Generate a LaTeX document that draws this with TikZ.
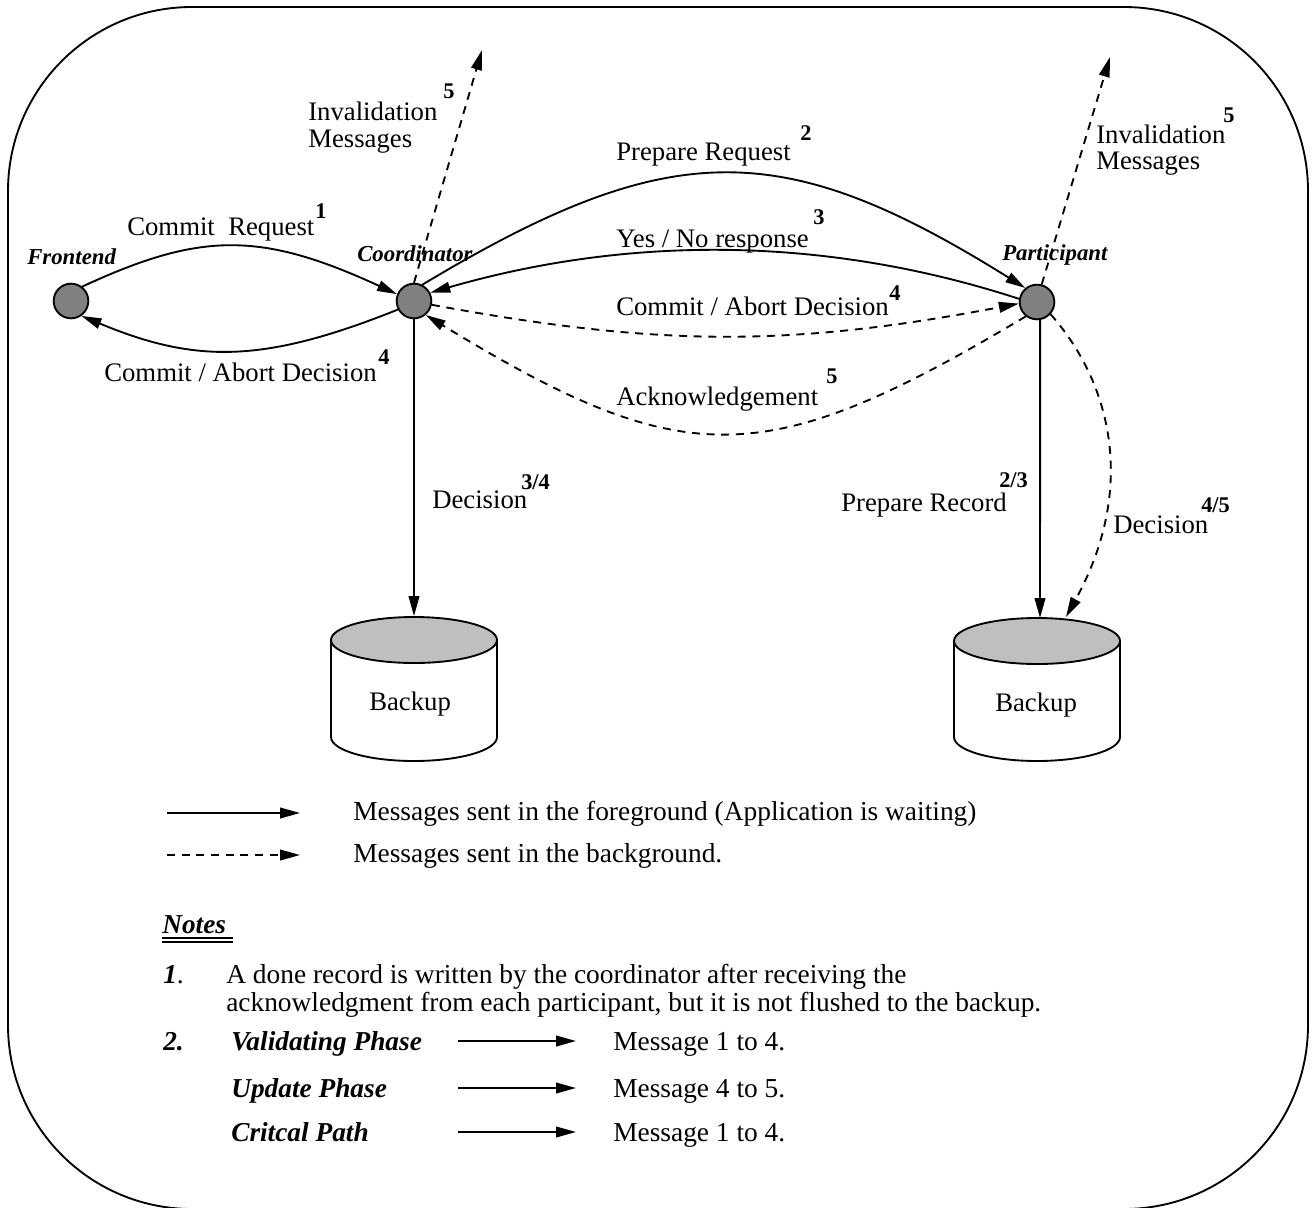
\documentclass[tikz,border=0pt]{standalone}
\usepackage{fontspec}
\setmainfont{Liberation Serif}
\usetikzlibrary{arrows.meta,shapes.geometric}
\tikzset{
  solidarrow/.style={line width=1.4pt,-{Triangle[length=15pt,width=8pt]}},
  plain/.style={line width=1.4pt},
  dasharrow/.style={line width=1.4pt,dash pattern=on 6pt off 5pt,-{Triangle[length=15pt,width=8pt]}},
  site/.style={circle,draw,line width=1.4pt,fill=black!50,minimum size=26pt,inner sep=0pt},
  disk/.style={ellipse,draw,line width=1.4pt,fill=black!25,minimum width=124.5pt,minimum height=34.5pt,inner sep=0pt},
  txt/.style={anchor=base west,inner sep=0pt,font=\fontsize{20.05}{22}\selectfont},
  txtn/.style={anchor=base west,inner sep=0pt,font=\fontsize{20.55}{22}\selectfont},
  num/.style={anchor=base west,inner sep=0pt,font=\fontsize{16.8}{18}\selectfont\bfseries},
  role/.style={anchor=base west,inner sep=0pt,font=\fontsize{17.1}{18}\selectfont\bfseries\itshape},
  head/.style={anchor=base west,inner sep=0pt,font=\fontsize{20.5}{22}\selectfont\bfseries\itshape},
}
\begin{document}
\begin{tikzpicture}[x=0.75pt,y=-0.75pt]
\useasboundingbox (0,0) rectangle (1314,1207);
\clip (0,0) rectangle (1314,1207);
\draw[plain,rounded corners=138pt] (8,7) rectangle (1308,1209);
% sites
\node[site] (F) at (71,301) {};
\node[site] (C) at (414,301) {};
\node[site] (P) at (1037,302) {};
% backups
\draw[plain,fill=white] (331,640) -- (331,737) arc[start angle=180,end angle=0,x radius=83,y radius=24] -- (497,640);
\draw[plain,fill=white] (954,641) -- (954,737) arc[start angle=180,end angle=0,x radius=83,y radius=24] -- (1120,641);
\node[disk] (DC) at (414,640) {};
\node[disk] (DP) at (1037,641) {};
\coordinate (DPa) at (1040,618);
\coordinate (DPb) at (1066,617);
% connectors
\draw[solidarrow] (F.52) .. controls (200,232) and (260,231) .. (C.158);
\draw[solidarrow] (C.208) .. controls (262,364) and (195,363) .. (F.-55);
\draw[solidarrow] (C.63) .. controls (670,136) and (782,136) .. (P.130);
\draw[solidarrow] (P.170) .. controls (823,235) and (627,236) .. (C.27);
\draw[dasharrow] (C.-12) .. controls (660,347) and (790,347) .. (P.-175);
\draw[dasharrow] (P.-128) .. controls (765,472) and (685,473) .. (C.-50);
\draw[solidarrow] (C.south) -- (DC.north);
\draw[solidarrow] (P.-80) -- (DPa);
\draw[dasharrow] (P.-42) .. controls (1113,385) and (1136,490) .. (DPb);
\coordinate (IC) at (482,50);
\coordinate (IP) at (1110,57);
\draw[dasharrow] (C.north) -- (IC);
\draw[dasharrow] (P.75) -- (IP);
% labels
\node[role] (lF) at (27,264) {Frontend};
\node[role] (lC) at (357,261) {Coordinator};
\node[role] (lP) at (1002,260) {Participant};
\node[txt] (t1) at (127,235) {Commit\ \ Request};
\node[num] (n1) at (315,218) {1};
\node[txt] (t2) at (104,381) {Commit / Abort Decision};
\node[num] (n2) at (378,364) {4};
\node[txt] (t3) at (308,120) {Invalidation};
\node[txt] (t3b) at (308,147) {Messages};
\node[num] (n3) at (443,98) {5};
\node[txt] (t4) at (616,160) {Prepare Request};
\node[num] (n4) at (800,140) {2};
\node[txt] (t5) at (616,247) {Yes / No response};
\node[num] (n5) at (813,224) {3};
\node[txt] (t6) at (616,315) {Commit / Abort Decision};
\node[num] (n6) at (889,300) {4};
\node[txt] (t7) at (616,405) {Acknowledgement};
\node[num] (n7) at (826,383) {5};
\node[txt] (t8) at (432,508) {Decision};
\node[num] (n8) at (521,489) {3/4};
\node[txt] (t9) at (841,511) {Prepare Record};
\node[num] (n9) at (999,487) {2/3};
\node[txt] (t10) at (1113,533) {Decision};
\node[num] (n10) at (1201,512) {4/5};
\node[txt] (t11) at (1096,143) {Invalidation};
\node[txt] (t11b) at (1096,169) {Messages};
\node[num] (n11) at (1223,122) {5};
\node[txt] (b1) at (369,710) {Backup};
\node[txt] (b2) at (995,711) {Backup};
% legend
\coordinate (la) at (167,813); \coordinate (lb) at (300,813);
\coordinate (lc) at (167,855); \coordinate (ld) at (300,855);
\draw[solidarrow] (la) -- (lb);
\draw[dasharrow] (lc) -- (ld);
\node[txtn] (l1) at (353,820) {Messages sent in the foreground (Application is waiting)};
\node[txtn] (l2) at (353,862) {Messages sent in the background.};
% notes
\node[head] (nh) at (162,933) {Notes};
\coordinate (ua) at (162,938); \coordinate (ub) at (233,938);
\coordinate (uc) at (162,942); \coordinate (ud) at (233,942);
\draw[line width=1pt] (ua) -- (ub);
\draw[line width=1pt] (uc) -- (ud);
\node[head] (k1) at (163,983) {1\textup{\mdseries .}};
\node[txtn] (k1a) at (226,983) {A done record is written by the coordinator after receiving the};
\node[txtn] (k1b) at (226,1011) {acknowledgment from each participant, but it is not flushed to the backup.};
\node[head] (k2) at (163,1050) {2.};
\node[head] (p1) at (231,1050) {Validating Phase};
\node[head] (p2) at (231,1097) {Update Phase};
\node[head] (p3) at (231,1141) {Critcal Path};
\node[txtn] (m1) at (613,1050) {Message 1 to 4.};
\node[txtn] (m2) at (613,1097) {Message 4 to 5.};
\node[txtn] (m3) at (613,1141) {Message 1 to 4.};
\coordinate (a1) at (458,1041); \coordinate (b1e) at (576,1041);
\coordinate (a2) at (458,1088); \coordinate (b2e) at (576,1088);
\coordinate (a3) at (458,1132); \coordinate (b3e) at (576,1132);
\draw[solidarrow] (a1) -- (b1e);
\draw[solidarrow] (a2) -- (b2e);
\draw[solidarrow] (a3) -- (b3e);
\end{tikzpicture}
\end{document}
